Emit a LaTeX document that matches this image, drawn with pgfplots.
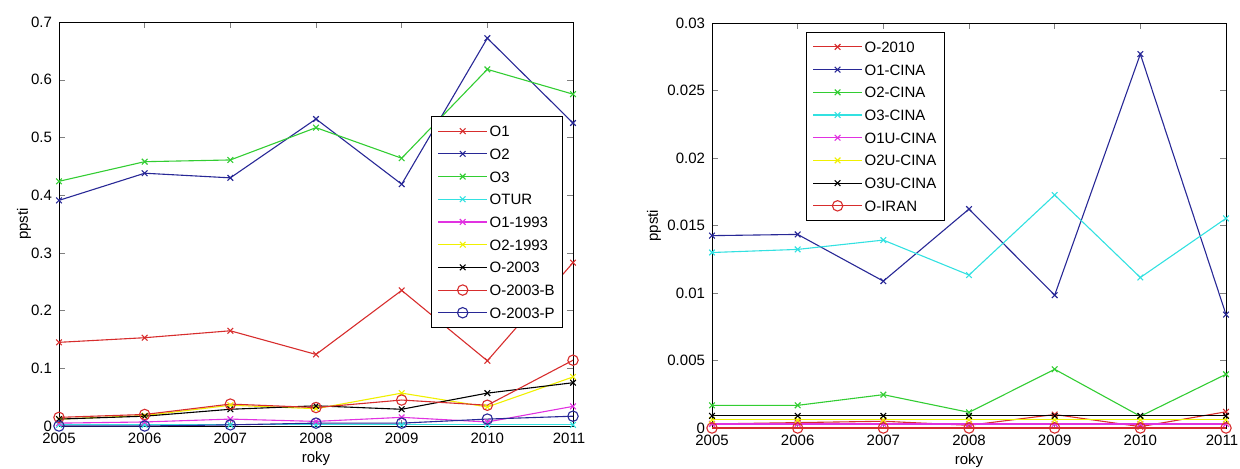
\documentclass[border=0pt]{standalone}
\usepackage{fontspec}
\setmainfont{Liberation Sans}
\usepackage{pgfplots}
\pgfplotsset{compat=1.18}
\definecolor{mr}{RGB}{215,45,45}
\definecolor{mb}{RGB}{40,40,150}
\definecolor{mg}{RGB}{50,205,50}
\definecolor{mc}{RGB}{50,225,225}
\definecolor{mm}{RGB}{225,50,225}
\definecolor{my}{RGB}{240,240,0}
\pgfplotsset{
  mat/.style={
    scale only axis, width=257pt,
    xmin=2005, xmax=2011, ymin=0,
    xtick={2005,2006,2007,2008,2009,2010,2011},
    xticklabels={2005,2006,2007,2008,2009,2010,\hspace*{-4pt}2011},
    tick align=inside, major tick length=3pt,
    ticklabel style={font=\fontsize{7.5}{8}\selectfont},
    label style={font=\fontsize{7.5}{8}\selectfont},
    /pgf/number format/assume math mode=true,
    /pgf/number format/1000 sep={},
    scaled y ticks=false,
    axis line style={line width=0.5pt},
    every axis plot/.append style={line width=0.55pt},
    legend cell align=left,
    legend image code/.code={\draw[mark repeat=2,mark phase=2] plot coordinates {(0cm,0cm) (0.43cm,0cm) (0.86cm,0cm)};},
    legend style={font=\fontsize{7.5}{8}\selectfont, draw=black, line width=0.5pt,
      row sep=2.85pt, inner sep=3pt,
      nodes={inner sep=1pt, text height=6pt, text depth=0.5pt}},
  },
  xs/.style={mark=x, mark size=2pt},
  os/.style={mark=o, mark size=2.6pt, mark options={line width=0.55pt}},
}
\begin{document}
\begin{tikzpicture}
\useasboundingbox (0,0) rectangle (620pt,234pt);
\begin{axis}[mat, at={(29.5pt,21pt)}, anchor=south west, height=202pt,
  ymax=0.7, ytick={0,0.1,0.2,0.3,0.4,0.5,0.6,0.7},
  xlabel={roky}, ylabel={ppsti},
  xlabel style={at={(axis description cs:0.5,-0.08)}, anchor=center},
  ylabel style={at={(axis description cs:-0.068,0.5)}, anchor=center},
  legend style={at={(0.981,0.767)}, anchor=north east}]
\addplot[mr, xs] coordinates {(2005,0.145) (2006,0.153) (2007,0.165) (2008,0.124) (2009,0.235) (2010,0.113) (2011,0.283)};
\addlegendentry{O1}
\addplot[mb, xs] coordinates {(2005,0.391) (2006,0.438) (2007,0.430) (2008,0.532) (2009,0.419) (2010,0.672) (2011,0.525)};
\addlegendentry{O2}
\addplot[mg, xs] coordinates {(2005,0.424) (2006,0.458) (2007,0.461) (2008,0.517) (2009,0.464) (2010,0.618) (2011,0.575)};
\addlegendentry{O3}
\addplot[mc, xs] coordinates {(2005,0.002) (2006,0.002) (2007,0.002) (2008,0.002) (2009,0.002) (2010,0.002) (2011,0.002)};
\addlegendentry{OTUR}
\addplot[mm, xs] coordinates {(2005,0.005) (2006,0.007) (2007,0.012) (2008,0.008) (2009,0.015) (2010,0.007) (2011,0.034)};
\addlegendentry{O1-1993}
\addplot[my, xs] coordinates {(2005,0.012) (2006,0.018) (2007,0.036) (2008,0.030) (2009,0.057) (2010,0.033) (2011,0.085)};
\addlegendentry{O2-1993}
\addplot[black, xs] coordinates {(2005,0.012) (2006,0.017) (2007,0.029) (2008,0.035) (2009,0.029) (2010,0.057) (2011,0.075)};
\addlegendentry{O-2003}
\addplot[mr, os] coordinates {(2005,0.015) (2006,0.020) (2007,0.038) (2008,0.032) (2009,0.045) (2010,0.036) (2011,0.114)};
\addlegendentry{O-2003-B}
\addplot[mb, os] coordinates {(2005,0.000) (2006,0.000) (2007,0.002) (2008,0.005) (2009,0.005) (2010,0.012) (2011,0.017)};
\addlegendentry{O-2003-P}
\end{axis}
\begin{axis}[mat, at={(356pt,20pt)}, anchor=south west, height=202.5pt,
  ymax=0.03, ytick={0,0.005,0.01,0.015,0.02,0.025,0.03},
  yticklabel style={/pgf/number format/fixed, /pgf/number format/precision=3},
  xlabel={roky}, ylabel={ppsti},
  xlabel style={at={(axis description cs:0.5,-0.08)}, anchor=center},
  ylabel style={at={(axis description cs:-0.113,0.5)}, anchor=center},
  legend style={at={(0.183,0.978)}, anchor=north west}]
\addplot[mr, xs] coordinates {(2005,0.0003) (2006,0.0004) (2007,0.0005) (2008,0.0002) (2009,0.0010) (2010,0.0001) (2011,0.0012)};
\addlegendentry{O-2010}
\addplot[mb, xs] coordinates {(2005,0.01425) (2006,0.01434) (2007,0.01088) (2008,0.01622) (2009,0.00984) (2010,0.0277) (2011,0.0084)};
\addlegendentry{O1-CINA}
\addplot[mg, xs] coordinates {(2005,0.00168) (2006,0.00168) (2007,0.00247) (2008,0.00116) (2009,0.00435) (2010,0.00087) (2011,0.00398)};
\addlegendentry{O2-CINA}
\addplot[mc, xs] coordinates {(2005,0.0130) (2006,0.01323) (2007,0.01392) (2008,0.01133) (2009,0.01726) (2010,0.01115) (2011,0.01553)};
\addlegendentry{O3-CINA}
\addplot[mm, xs] coordinates {(2005,0.0003) (2006,0.0003) (2007,0.0003) (2008,0.0003) (2009,0.0003) (2010,0.0003) (2011,0.0003)};
\addlegendentry{O1U-CINA}
\addplot[my, xs] coordinates {(2005,0.0006) (2006,0.0006) (2007,0.0006) (2008,0.0006) (2009,0.0006) (2010,0.0006) (2011,0.0006)};
\addlegendentry{O2U-CINA}
\addplot[black, xs] coordinates {(2005,0.0009) (2006,0.0009) (2007,0.0009) (2008,0.0009) (2009,0.0009) (2010,0.0009) (2011,0.0009)};
\addlegendentry{O3U-CINA}
\addplot[mr, os] coordinates {(2005,0) (2006,0) (2007,0) (2008,0) (2009,0) (2010,0) (2011,0)};
\addlegendentry{O-IRAN}
\end{axis}
\end{tikzpicture}
\end{document}
